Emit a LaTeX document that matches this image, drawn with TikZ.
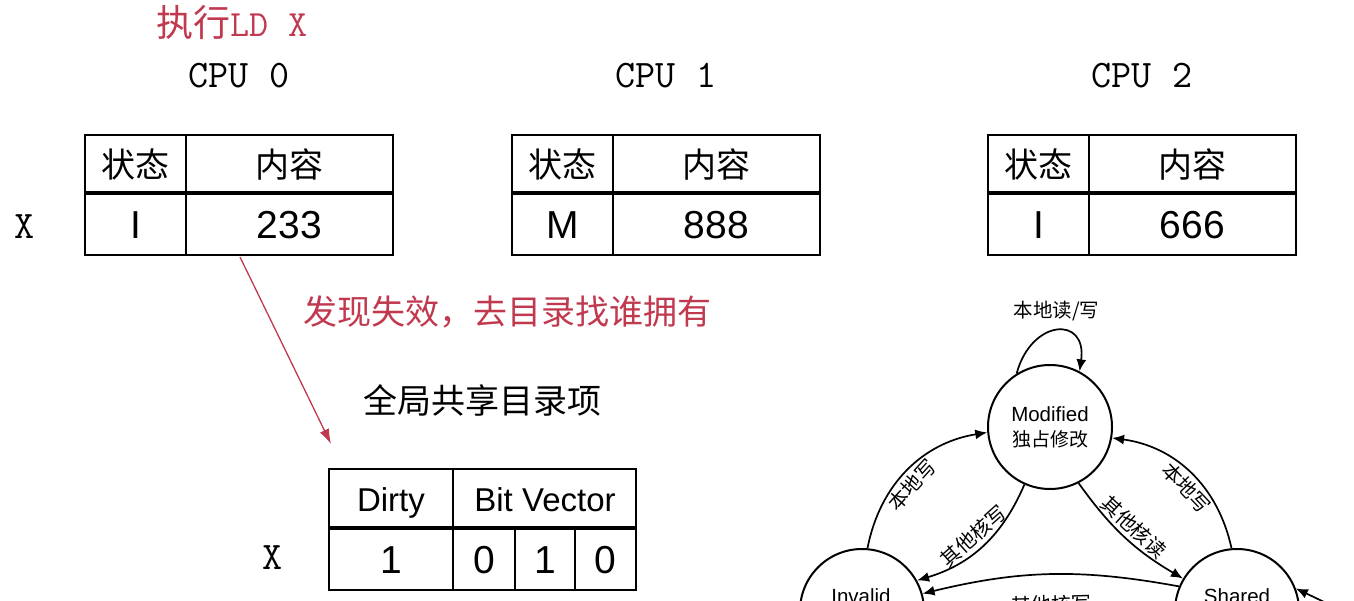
\documentclass[tikz,border=0pt]{standalone}
\usepackage{fontspec}
\setmainfont{Liberation Sans}
\newfontfamily\cjk{Noto Sans CJK SC}
\usetikzlibrary{arrows.meta}
\definecolor{redmark}{RGB}{192,57,79}
\tikzset{
  tbl/.style={line width=2pt},
  sep/.style={line width=4pt},
  cpulbl/.style={font=\fontsize{39}{42}\selectfont\ttfamily},
  hdr/.style={font=\fontsize{34}{40}\selectfont\cjk},
  val/.style={font=\fontsize{39}{44}\selectfont},
  dirhdr/.style={font=\fontsize{33}{40}\selectfont, anchor=base},
  state/.style={circle, draw, line width=2pt, minimum size=124pt, inner sep=0pt,
    align=center, font=\fontsize{20.5}{25}\selectfont},
  sttxt/.style={font=\fontsize{20.5}{25}\selectfont},
  edge/.style={line width=1.7pt, -{Latex[length=12pt,width=10pt]}},
  elbl/.style={font=\fontsize{20}{22}\selectfont\cjk, sloped},
}
\begin{document}
\begin{tikzpicture}[x=1pt,y=1pt]
\useasboundingbox (0,0) rectangle (1354,-601);
\clip (0,0) rectangle (1354,-601);

% caches of the three CPUs
\node[text=redmark, font=\fontsize{37}{40}\selectfont] (exec) at (232,-22) {{\cjk 执行}{\ttfamily LD X}};
\node[cpulbl] (xrow) at (25,-227) {X};
\foreach \x/\n/\s/\v in {85/0/I/233,512/1/M/888,988/2/I/666}{
  \draw[tbl] (\x,-135) rectangle (\x+308,-255);
  \draw[tbl] (\x+101,-135) -- (\x+101,-255);
  \draw[sep] (\x,-193) -- (\x+308,-193);
  \node[cpulbl] (cpu\n) at (\x+154,-76) {CPU \n};
  \node[hdr] (st\n) at (\x+50.5,-164) {状态};
  \node[hdr] (ct\n) at (\x+204.5,-164) {内容};
  \node[val] (sv\n) at (\x+50.5,-225) {\s};
  \node[val] (cv\n) at (\x+204.5,-225) {\v};
}

% directory
\node[text=redmark, font=\fontsize{34}{40}\selectfont\cjk] (miss) at (507,-312) {发现失效，去目录找谁拥有};
\node[hdr] (dirname) at (482,-400) {全局共享目录项};
\coordinate (src) at (240,-257);
\coordinate (dst) at (331,-444);
\draw[redmark, line width=1.3pt, -{Latex[length=15pt,width=10pt]}] (src) -- (dst);

\draw[tbl] (329,-469) rectangle (636,-590);
\draw[tbl] (453,-469) -- (453,-590);
\draw[tbl] (515,-528) -- (515,-590);
\draw[tbl] (575,-528) -- (575,-590);
\draw[sep] (329,-528) -- (636,-528);
\node[cpulbl] (xdir) at (273,-558) {X};
\node[dirhdr] (dirty) at (391,-511) {Dirty};
\node[dirhdr] (bitvec) at (545,-511) {Bit Vector};
\node[val] (dval) at (391,-560) {1};
\node[val] (b0) at (484,-560) {0};
\node[val] (b1) at (545,-560) {1};
\node[val] (b2) at (605,-560) {0};

% MSI states
\node[state] (M) at (1050,-427) {Modified\\{\cjk\fontsize{19}{25}\selectfont 独占修改}};
\node[state] (I) at (862,-611) {};
\node[state] (S) at (1237,-611) {};
\node[sttxt] (Itxt) at (861,-596) {Invalid};
\node[sttxt] (Stxt) at (1237,-596) {Shared};
\coordinate (rin) at (1345,-612);

\draw[edge] (M.122) to[out=75, in=82, looseness=2.3] node[font=\fontsize{19.5}{22}\selectfont\cjk, above=6pt] {本地读/写} (M.62);
\draw[edge] (I.85) to[bend left=35] node[elbl, below, pos=0.45] {本地写} (M.185);
\draw[edge] (M.246) to[bend left=25] node[elbl, above] {其他核写} (I.29);
\draw[edge] (M.297) to[bend right=12] node[elbl, above] {其他核读} (S.149);
\draw[edge] (S.95) to[bend right=35] node[elbl, below, pos=0.45] {本地写} (M.350);
\draw[edge] (S.157) to[bend right=12] node[elbl, below=17pt] {其他核写} (I.16);
\draw[edge] (rin) -- (S.21);
\end{tikzpicture}
\end{document}
